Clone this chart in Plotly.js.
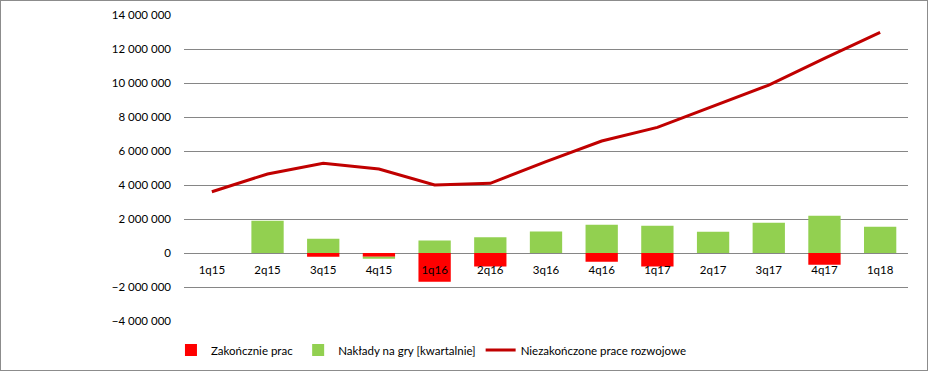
<!DOCTYPE html>
<html>
<head>
<meta charset="utf-8">
<script src="https://cdn.plot.ly/plotly-3.0.1.min.js"></script>
<style>
html,body{margin:0;padding:0;background:#fff;}
#chart{width:926px;height:369px;border:1px solid #8c8c8c;}
</style>
</head>
<body>
<div id="chart"></div>
<script>
const categories = ['1q15','2q15','3q15','4q15','1q16','2q16','3q16','4q16','1q17','2q17','3q17','4q17','1q18'];
const zakonczenie = [0, 0, -220000, -220000, -1690000, -800000, 0, -510000, -800000, 0, 0, -690000, 0];
const naklady = [0, 1900000, 840000, -120000, 740000, 920000, 1270000, 1660000, 1600000, 1250000, 1780000, 2190000, 1550000];
const niezakonczone = [3600000, 4650000, 5280000, 4940000, 4000000, 4100000, 5370000, 6590000, 7390000, 8650000, 9880000, 11450000, 12980000];
const yTicks = [-4000000,-2000000,0,2000000,4000000,6000000,8000000,10000000,12000000,14000000];

const font = {family: 'Lato, "Liberation Sans", sans-serif', size: 11.5, color: '#000'};

const traces = [
  {type:'bar', name:'Zakończnie prac', x:categories, y:zakonczenie, marker:{color:'#ff0000'}, hoverinfo:'skip'},
  {type:'bar', name:'Nakłady na gry [kwartalnie]', x:categories, y:naklady, marker:{color:'#92d050'}, hoverinfo:'skip'},
  {type:'scatter', mode:'lines', name:'Niezakończone prace rozwojowe', x:categories, y:niezakonczone, line:{color:'#c00000', width:3}, hoverinfo:'skip'}
];

const H = 369, mt = 14, mb = 49;
const plotH = H - mt - mb;
const layout = {
  width: 926, height: 369,
  margin: {l:183, r:19, t:mt, b:mb, autoexpand:false},
  paper_bgcolor:'#fff', plot_bgcolor:'#fff',
  font: font,
  separators: ', ',
  barmode: 'relative',
  bargap: 0.42,
  showlegend: true,
  legend: {orientation:'h', x:-0.018, xanchor:'left', y:-29/plotH, yanchor:'middle', font:font, traceorder:'normal', bgcolor:'rgba(0,0,0,0)'},
  xaxis: {type:'category', anchor:'free', position: 4/18, showgrid:false, zeroline:false, showline:false, ticks:'', ticklabelstandoff: 8, tickfont: font, fixedrange:true},
  yaxis: {range:[-4000000,14000000], tickvals: yTicks, tickformat:',d', showgrid:true, gridcolor:'#868686', gridwidth:1, zeroline:false, showline:false, ticks:'', ticklabelstandoff: 12, tickfont: font, fixedrange:true}
};

Plotly.newPlot('chart', traces, layout, {displayModeBar:false, staticPlot:true});
</script>
</body>
</html>
